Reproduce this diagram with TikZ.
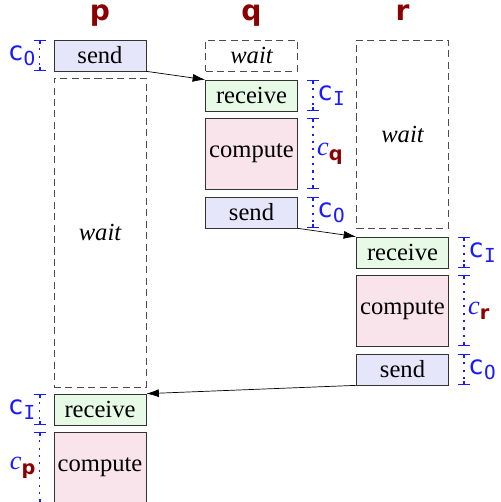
\documentclass[tikz,border=0pt]{standalone}
\usepackage{fontspec}
\setmainfont{Liberation Serif}
\setsansfont{DejaVu Sans}
\setmonofont{DejaVu Sans Mono}
\usetikzlibrary{arrows.meta}

\definecolor{sendfill}{HTML}{E6E6FA}
\definecolor{recvfill}{HTML}{E6FAE6}
\definecolor{compfill}{HTML}{F8E4EA}
\definecolor{procred}{HTML}{8B0000}
\definecolor{spanblue}{HTML}{1A1AFF}

\newcommand{\clab}[1]{\texttt{c}\raisebox{-.4ex}{\texttt{\fontsize{11}{11}\selectfont #1}}}
\newcommand{\cproc}[1]{\textit{c}\raisebox{-.4ex}{\textcolor{procred}{\sffamily\bfseries\fontsize{11}{11}\selectfont #1}}}

\tikzset{
  task/.style={draw=black!80, minimum width=1.84cm, minimum height=0.62cm,
    inner sep=0pt, font=\rmfamily\fontsize{14}{16}\selectfont},
  sendbox/.style={task, fill=sendfill},
  recvbox/.style={task, fill=recvfill},
  compbox/.style={task, fill=compfill, minimum height=1.42cm},
  waitbox/.style={task, draw=black!70, dash pattern=on 4pt off 2.5pt,
    font=\rmfamily\fontsize{14}{16}\selectfont\itshape},
  proc/.style={text=procred, anchor=base, font=\sffamily\bfseries\fontsize{16}{18}\selectfont},
  msg/.style={-{Latex[length=2.5mm,width=1.6mm]}, black},
  cspan/.style={spanblue, line width=0.9pt, dash pattern=on 1.2pt off 3pt,
    {Bar[width=2.4mm] Rectangle[length=1.6pt,width=1.2pt]}-{Rectangle[length=1.6pt,width=1.2pt] Bar[width=2.4mm]}},
  clabel/.style={text=spanblue, inner sep=2pt, font=\fontsize{15}{17}\selectfont},
}

\begin{document}
\begin{tikzpicture}[x=0.02cm, y=-0.02cm]
  \useasboundingbox (0,0) rectangle (500,502);

  % process names
  \node[proc] (p) at (100,21) {p};
  \node[proc] (q) at (251.5,21) {q};
  \node[proc] (r) at (402.5,21) {r};

  % process p
  \node[sendbox] (psend) at (100,55.5) {send};
  \node[waitbox, minimum height=6.18cm] (pwait) at (100,232.5) {wait};
  \node[recvbox] (precv) at (100,409.5) {receive};
  \node[compbox] (pcomp) at (100,467.5) {compute};

  % process q
  \node[waitbox] (qwait) at (251.5,55.5) {wait};
  \node[recvbox] (qrecv) at (251.5,95.5) {receive};
  \node[compbox] (qcomp) at (251.5,153.5) {compute};
  \node[sendbox] (qsend) at (251.5,212.5) {send};

  % process r
  \node[waitbox, minimum height=3.76cm] (rwait) at (402.5,134) {wait};
  \node[recvbox] (rrecv) at (402.5,252.5) {receive};
  \node[compbox] (rcomp) at (402.5,310.5) {compute};
  \node[sendbox] (rsend) at (402.5,369.5) {send};

  % messages
  \draw[msg] (psend.south east) -- (qrecv.north west);
  \draw[msg] (qsend.south east) -- (rrecv.north west);
  \draw[msg] (rsend.south west) -- (precv.north east);

  % costs
  \draw[cspan] ([xshift=-0.28cm]psend.north west) -- ([xshift=-0.28cm]psend.south west)
       node[midway, left, clabel] {\clab{O}};
  \draw[cspan] ([xshift=-0.28cm]precv.north west) -- ([xshift=-0.28cm]precv.south west)
       node[midway, left, clabel] {\clab{I}};
  \draw[cspan] ([xshift=-0.28cm]pcomp.north west) -- ([xshift=-0.28cm]pcomp.south west)
       node[midway, left, clabel] {\cproc{p}};

  \draw[cspan] ([xshift=0.3cm]qrecv.north east) -- ([xshift=0.3cm]qrecv.south east)
       node[midway, right, clabel] {\clab{I}};
  \draw[cspan] ([xshift=0.3cm]qcomp.north east) -- ([xshift=0.3cm]qcomp.south east)
       node[midway, right, clabel] {\cproc{q}};
  \draw[cspan] ([xshift=0.3cm]qsend.north east) -- ([xshift=0.3cm]qsend.south east)
       node[midway, right, clabel] {\clab{O}};

  \draw[cspan] ([xshift=0.3cm]rrecv.north east) -- ([xshift=0.3cm]rrecv.south east)
       node[midway, right, clabel] {\clab{I}};
  \draw[cspan] ([xshift=0.3cm]rcomp.north east) -- ([xshift=0.3cm]rcomp.south east)
       node[midway, right, clabel] {\cproc{r}};
  \draw[cspan] ([xshift=0.3cm]rsend.north east) -- ([xshift=0.3cm]rsend.south east)
       node[midway, right, clabel] {\clab{O}};
\end{tikzpicture}
\end{document}
